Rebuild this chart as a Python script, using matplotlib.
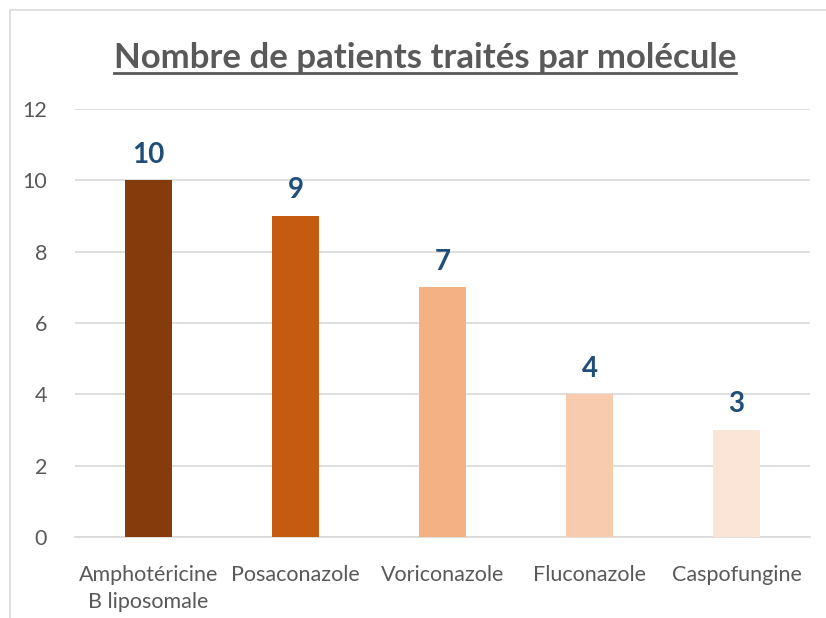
import matplotlib.pyplot as plt
from matplotlib.patches import Rectangle
from matplotlib.lines import Line2D

# data
molecules = ["Amphotéricine\nB liposomale", "Posaconazole", "Voriconazole", "Fluconazole", "Caspofungine"]
patients = [10, 9, 7, 4, 3]
colors = ["#843C0C", "#C55A11", "#F4B183", "#F8CBAD", "#FBE5D6"]
yticks = [0, 2, 4, 6, 8, 10, 12]

plt.rcParams['font.family'] = ['Lato', 'DejaVu Sans']

fig = plt.figure(figsize=(8.26, 6.18), dpi=100)
ax = fig.add_axes([75 / 826, 1 - 537 / 618, 735 / 826, (537 - 109) / 618])

# chart border
fig.patches.append(Rectangle((10 / 826, -0.1), 1.0, 1 - 10 / 618 + 0.1, transform=fig.transFigure,
                             fill=False, edgecolor="#D9D9D9", linewidth=1.2))

x = range(len(molecules))
bars = ax.bar(x, patients, width=0.32, color=colors, zorder=3)

for b, v in zip(bars, patients):
    ax.annotate(str(v), (b.get_x() + b.get_width() / 2, v), xytext=(0, 9), textcoords="offset points",
                ha="center", va="bottom", fontsize=20, fontweight="bold", color="#1F4E79")

ax.set_xlim(-0.5, 4.5)
ax.set_ylim(0, 12)
ax.set_yticks(yticks)
ax.set_xticks(list(x))
ax.set_xticklabels(molecules, linespacing=1.45)
ax.grid(axis="y", color="#D9D9D9", linewidth=1.2, zorder=0)
for s in ["top", "right", "left"]:
    ax.spines[s].set_visible(False)
ax.spines["bottom"].set_color("#D9D9D9")
ax.spines["bottom"].set_linewidth(1.2)
ax.tick_params(axis="both", length=0, labelsize=15.5, colors="#595959")
ax.tick_params(axis="y", pad=20)
ax.tick_params(axis="x", pad=20)

title = fig.text(425 / 826, 1 - 58 / 618, "Nombre de patients traités par molécule", ha="center", va="center",
                 fontsize=25, fontweight="bold", color="#595959")

# underline title
fig.canvas.draw()
bb = title.get_window_extent().transformed(fig.transFigure.inverted())
fig.add_artist(Line2D([bb.x0, bb.x1], [bb.y0 + 0.002, bb.y0 + 0.002], transform=fig.transFigure,
                      color="#595959", linewidth=2))

fig.savefig("out.png", dpi=100)
